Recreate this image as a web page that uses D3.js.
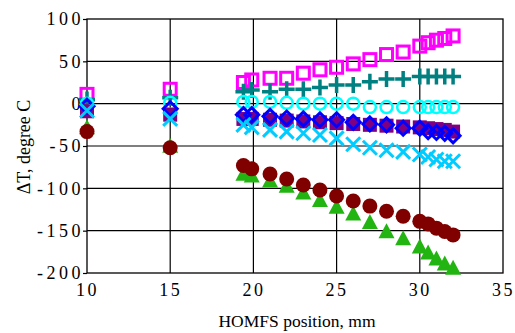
<!DOCTYPE html>
<html>
<head>
<meta charset="utf-8">
<script src="https://cdn.jsdelivr.net/npm/d3@7"></script>
<style>
  body { margin: 0; background: #fff; }
  svg text { font-family: "Liberation Serif", "DejaVu Serif", serif !important; }
</style>
</head>
<body>
<div id="chart"></div>
<script>
// positions along the HOMFS, mm
var xs = [10, 15, 19.4, 19.9, 21, 22, 23, 24, 25, 26, 27, 28, 29, 30, 30.5, 31, 31.5, 32];

var magentaSq = [11, 17, 25, 28, 30, 30, 36, 40, 43, 47, 52, 58, 61, 68, 72, 75, 77, 80];
var tealPlus  = [5, 7, 14, 16, 14, 17, 17, 19, 22, 22, 26, 29, 29, 32, 32, 32, 32, 32];
var cyanCirc  = [0, 1, 2, 2, 2, 1, 0, 0, 0, 0, -4, -4, -4, -4, -4, -4, -4, -4];
var purpleSq  = [-9, -13, -18, -18, -19, -20, -21, -22, -23, -24, -25, -26, -27, -28, -29, -30, -31, -33];
var blueDiam  = [-3, -6, -13, -13, -15, -17, -18, -19, -19, -22, -24, -25, -29, -29, -33, -34, -35, -38];
var skyX      = [-8, -18, -25, -28, -31, -33, -35, -37, -41, -48, -52, -55, -57, -60, -63, -66, -68, -68];
var greenTri  = [-29, -51, -84, -86, -92, -98, -106, -115, -123, -131, -141, -152, -160, -170, -177, -184, -190, -195];
var redCirc   = [-33, -52, -73, -77, -83, -89, -96, -102, -109, -115, -121, -127, -133, -139, -142, -147, -151, -155];

var xTicks = [10, 15, 20, 25, 30, 35];
var yTicks = [100, 50, 0, -50, -100, -150, -200];

var margin = {top: 19, right: 12, bottom: 60, left: 87};
var width = 416, height = 254;

var svg = d3.select("#chart").append("svg")
    .attr("width", 515).attr("height", 333)
  .append("g")
    .attr("transform", "translate(" + margin.left + "," + margin.top + ")");

var x = d3.scaleLinear().domain([10, 35]).range([0, width]);
var y = d3.scaleLinear().domain([-200, 100]).range([height, 0]);

// grid
svg.selectAll(".gx").data(xTicks.slice(1, -1)).enter().append("line")
    .attr("x1", d => x(d)).attr("x2", d => x(d))
    .attr("y1", 0).attr("y2", height)
    .attr("stroke", "#000").attr("stroke-width", 1.2);
svg.selectAll(".gy").data(yTicks.slice(1, -1)).enter().append("line")
    .attr("x1", 0).attr("x2", width)
    .attr("y1", d => y(d)).attr("y2", d => y(d))
    .attr("stroke", "#000").attr("stroke-width", 1.2);

svg.append("rect").attr("width", width).attr("height", height)
    .attr("fill", "none").attr("stroke", "#000").attr("stroke-width", 1.3);

// axes, minus written as a plain hyphen like the original
var yAxis = svg.append("g")
    .call(d3.axisLeft(y).tickValues(yTicks).tickSize(4).tickSizeOuter(0).tickFormat(d => String(d)));
yAxis.select(".domain").remove();
yAxis.selectAll("line").attr("stroke-width", 1.2);
yAxis.selectAll("text")
    .style("font-size", "18px").style("letter-spacing", "3.5px")
    .attr("x", -3).attr("dy", "0.33em").attr("fill", "#000");

var xAxis = svg.append("g").attr("transform", "translate(0," + height + ")")
    .call(d3.axisBottom(x).tickValues(xTicks).tickSize(0));
xAxis.select(".domain").remove();
xAxis.selectAll("text")
    .style("font-size", "18px").style("letter-spacing", "2.5px")
    .attr("y", 10).attr("dx", "0px").attr("fill", "#000");

svg.append("text")
    .attr("x", width / 2 + 2).attr("y", height + 54)
    .attr("text-anchor", "middle").style("font-size", "17.5px")
    .text("HOMFS position, mm");

svg.append("text")
    .attr("transform", "translate(-57," + (height / 2 + 1) + ") rotate(-90)")
    .attr("text-anchor", "middle").style("font-size", "18px")
    .text("ΔT, degree C");

function pts(vals) { return vals.map((v, i) => [xs[i], v]); }

function drawSeries(vals, type, color) {
  var g = svg.append("g");
  var sel = g.selectAll("g").data(pts(vals)).enter().append("g")
      .attr("transform", d => "translate(" + x(d[0]) + "," + y(d[1]) + ")");
  if (type === "square") {
    sel.append("rect").attr("x", -6).attr("y", -6).attr("width", 12).attr("height", 12)
       .attr("fill", "none").attr("stroke", color).attr("stroke-width", 3);
  } else if (type === "fsquare") {
    sel.append("rect").attr("x", -7).attr("y", -7).attr("width", 14).attr("height", 14)
       .attr("fill", color);
  } else if (type === "plus") {
    sel.append("path").attr("d", "M-8,0H8M0,-8V8")
       .attr("stroke", color).attr("stroke-width", 3.5);
  } else if (type === "circle") {
    sel.append("circle").attr("r", 6)
       .attr("fill", "none").attr("stroke", color).attr("stroke-width", 2.5);
  } else if (type === "diamond") {
    sel.append("path").attr("d", "M0,-7L7,0L0,7L-7,0Z")
       .attr("fill", "none").attr("stroke", color).attr("stroke-width", 3);
  } else if (type === "x") {
    sel.append("path").attr("d", "M-7,-7L7,7M-7,7L7,-7")
       .attr("stroke", color).attr("stroke-width", 3);
  } else if (type === "tri") {
    sel.append("path").attr("d", "M0,-9L8,6L-8,6Z").attr("fill", color);
  } else if (type === "dot") {
    sel.append("circle").attr("r", 7.5).attr("fill", color);
  }
}

drawSeries(magentaSq, "square", "#ff00ff");
drawSeries(tealPlus, "plus", "#008080");
drawSeries(cyanCirc, "circle", "#00ffff");
drawSeries(purpleSq, "fsquare", "#800080");
drawSeries(blueDiam, "diamond", "#0000ff");
drawSeries(skyX, "x", "#00ccff");
drawSeries(greenTri, "tri", "#22b411");
drawSeries(redCirc, "dot", "#800000");
</script>
</body>
</html>
